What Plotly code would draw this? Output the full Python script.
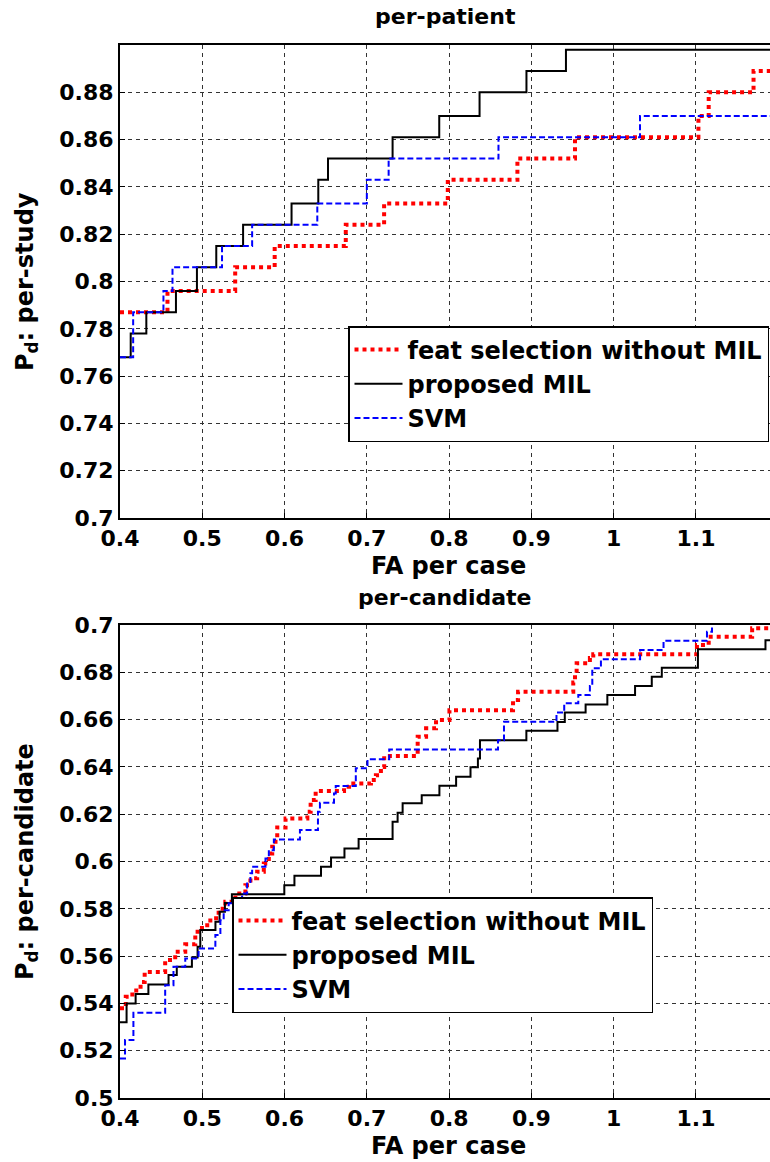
import plotly.graph_objects as go

# ---------------- per-patient (top) ----------------
fa_top_fs = [0.4, 0.4577, 0.540, 0.588, 0.6744, 0.721, 0.7984, 0.883, 0.953, 1.103, 1.1155, 1.170, 1.19]
pd_top_fs = [0.787, 0.796, 0.806, 0.815, 0.824, 0.833, 0.843, 0.852, 0.861, 0.870, 0.880, 0.889, 0.889]

fa_top_mil = [0.4, 0.413, 0.432, 0.468, 0.4935, 0.517, 0.5496, 0.6085, 0.641, 0.6528, 0.7313, 0.788, 0.837, 0.894, 0.942, 1.19]
pd_top_mil = [0.768, 0.778, 0.787, 0.796, 0.806, 0.815, 0.824, 0.833, 0.843, 0.852, 0.861, 0.870, 0.880, 0.889, 0.898, 0.898]

fa_top_svm = [0.4, 0.416, 0.4528, 0.4638, 0.524, 0.5606, 0.6398, 0.700, 0.7265, 0.860, 1.032, 1.19]
pd_top_svm = [0.768, 0.787, 0.796, 0.806, 0.815, 0.824, 0.833, 0.843, 0.852, 0.861, 0.870, 0.870]

# ---------------- per-candidate (bottom) ----------------
fa_bot_fs = [0.4, 0.407, 0.415, 0.425, 0.430, 0.4549, 0.4589, 0.4671, 0.4793, 0.4915, 0.4996, 0.5098,
             0.5199, 0.528, 0.5402, 0.5524, 0.5585, 0.5667, 0.5748, 0.5809, 0.585, 0.589, 0.5911, 0.6012,
             0.6277, 0.6317, 0.6378, 0.6723, 0.6784, 0.705, 0.711, 0.7171, 0.7211, 0.7618, 0.772, 0.7841,
             0.8004, 0.8777, 0.8838, 0.9509, 0.953, 0.955, 0.9711, 0.9752, 1.1012, 1.1155, 1.1683, 1.19]
pd_bot_fs = [0.538, 0.5428, 0.5455, 0.549, 0.5533, 0.5583, 0.5583, 0.5618, 0.565, 0.5703, 0.573, 0.576,
             0.580, 0.583, 0.5865, 0.590, 0.5929, 0.5957, 0.5992, 0.6034, 0.6062, 0.610, 0.6144, 0.6182,
             0.621, 0.626, 0.6298, 0.6316, 0.633, 0.6345, 0.6365, 0.640, 0.6446, 0.6527, 0.6563, 0.6598,
             0.664, 0.6683, 0.6718, 0.6757, 0.6796, 0.6838, 0.686, 0.6876, 0.6915, 0.695, 0.6986, 0.6986]

fa_bot_mil = [0.4, 0.408, 0.419, 0.4345, 0.459, 0.469, 0.4874, 0.4943, 0.4976, 0.516, 0.521, 0.5275,
              0.536, 0.5997, 0.612, 0.6443, 0.6565, 0.6728, 0.690, 0.7313, 0.7374, 0.7435, 0.7667, 0.7882,
              0.8085, 0.826, 0.835, 0.8375, 0.8939, 0.9317, 0.9406, 0.9659, 0.9923, 1.026, 1.0463, 1.0585,
              1.1024, 1.1845, 1.19]
pd_bot_mil = [0.532, 0.540, 0.544, 0.548, 0.552, 0.5555, 0.5594, 0.564, 0.571, 0.5745, 0.5787, 0.5825,
              0.5862, 0.590, 0.594, 0.5978, 0.6017, 0.6055, 0.6095, 0.6168, 0.6206, 0.6246, 0.628, 0.632,
              0.6358, 0.6398, 0.6436, 0.6513, 0.6553, 0.659, 0.663, 0.6664, 0.6704, 0.6742, 0.6781, 0.6819,
              0.6897, 0.6936, 0.6936]

fa_bot_svm = [0.4, 0.4061, 0.4163, 0.4549, 0.465, 0.4793, 0.4955, 0.5159, 0.522, 0.526, 0.5321, 0.5484,
              0.5545, 0.5585, 0.5606, 0.5768, 0.5809, 0.587, 0.6187, 0.6406, 0.643, 0.6601, 0.6622, 0.6866,
              0.7008, 0.7272, 0.8594, 0.8667, 0.9305, 0.9399, 0.957, 0.9711, 0.974, 0.9845, 1.0321, 1.0606,
              1.1134, 1.1195, 1.19]
pd_bot_svm = [0.5167, 0.5245, 0.536, 0.5477, 0.5555, 0.559, 0.5632, 0.5689, 0.5752, 0.5794, 0.5823, 0.5865,
              0.5907, 0.595, 0.5978, 0.6013, 0.6048, 0.6093, 0.6133, 0.621, 0.6248, 0.6288, 0.6319, 0.6394,
              0.6432, 0.6474, 0.6513, 0.6591, 0.663, 0.6669, 0.6704, 0.6742, 0.6817, 0.6855, 0.6894, 0.6933,
              0.6971, 0.7015, 0.7015]

series_names = ["feat selection without MIL", "proposed MIL", "SVM"]
x_tickvals = [0.4, 0.5, 0.6, 0.7, 0.8, 0.9, 1.0, 1.1]
x_ticktext = ["0.4", "0.5", "0.6", "0.7", "0.8", "0.9", "1", "1.1"]
y_top_tickvals = [0.7, 0.72, 0.74, 0.76, 0.78, 0.8, 0.82, 0.84, 0.86, 0.88]
y_top_ticktext = ["0.7", "0.72", "0.74", "0.76", "0.78", "0.8", "0.82", "0.84", "0.86", "0.88"]
y_bot_tickvals = [0.5, 0.52, 0.54, 0.56, 0.58, 0.6, 0.62, 0.64, 0.66, 0.68, 0.7]
y_bot_ticktext = ["0.5", "0.52", "0.54", "0.56", "0.58", "0.6", "0.62", "0.64", "0.66", "0.68", "0.7"]

FONT = "DejaVu Sans"
styles = [
    dict(color="#ff0000", width=4, dash="4px,4px"),
    dict(color="#000000", width=2, dash="solid"),
    dict(color="#0000ff", width=2, dash="6px,3px"),
]

fig = go.Figure()
top = [(fa_top_fs, pd_top_fs), (fa_top_mil, pd_top_mil), (fa_top_svm, pd_top_svm)]
bot = [(fa_bot_fs, pd_bot_fs), (fa_bot_mil, pd_bot_mil), (fa_bot_svm, pd_bot_svm)]
for (x, y), name, st in zip(top, series_names, styles):
    fig.add_trace(go.Scatter(x=x, y=y, mode="lines", line=dict(shape="hv", **st), name=name,
                             xaxis="x", yaxis="y", legend="legend"))
for (x, y), name, st in zip(bot, series_names, styles):
    fig.add_trace(go.Scatter(x=x, y=y, mode="lines", line=dict(shape="hv", **st), name=name,
                             xaxis="x2", yaxis="y2", legend="legend2"))

T, B = 45, 64
H = 1162 - T - B


def py(p):
    return (1098 - p) / H


def px(p):
    return (p - 120) / 650


axis_common = dict(
    showline=True, linecolor="black", linewidth=2, mirror=True,
    showgrid=True, gridcolor="#333333", gridwidth=1, griddash="4px,4px",
    ticks="inside", ticklen=5, tickcolor="black",
    tickfont=dict(family=FONT, size=22, color="black", weight="bold"),
    zeroline=False,
)

legend_common = dict(
    bgcolor="white", bordercolor="black", borderwidth=1.5,
    font=dict(family=FONT, size=24, color="black", weight="bold"),
    xanchor="left", yanchor="top", tracegroupgap=0, itemwidth=48,
)

fig.update_layout(
    width=770, height=1162,
    margin=dict(l=120, r=0, t=T, b=B, autoexpand=False),
    plot_bgcolor="white", paper_bgcolor="white",
    xaxis=dict(domain=[0, 1], range=[0.4, 1.19], anchor="y", tickvals=x_tickvals, ticktext=x_ticktext, **axis_common),
    yaxis=dict(domain=[py(518), 1], range=[0.7, 0.9], anchor="x", tickvals=y_top_tickvals, ticktext=y_top_ticktext, **axis_common),
    xaxis2=dict(domain=[0, 1], range=[0.4, 1.19], anchor="y2", tickvals=x_tickvals, ticktext=x_ticktext, **axis_common),
    yaxis2=dict(domain=[0, py(625)], range=[0.5, 0.7], anchor="x2", tickvals=y_bot_tickvals, ticktext=y_bot_ticktext, **axis_common),
    legend=dict(x=px(348), y=py(326), **legend_common),
    legend2=dict(x=px(232), y=py(897), **legend_common),
    showlegend=True,
)

ann_font = dict(family=FONT, size=22, color="black", weight="bold")
lab_font = dict(family=FONT, size=24, color="black", weight="bold")
annotations = [
    dict(text="per-patient", x=px(445), y=py(16), font=ann_font),
    dict(text="per-candidate", x=px(445), y=py(597), font=ann_font),
    dict(text="FA per case", x=px(448), y=py(566), font=lab_font),
    dict(text="FA per case", x=px(448), y=py(1146), font=lab_font),
    dict(text="P<sub>d</sub>: per-study", x=px(26), y=py(282), font=lab_font, textangle=-90),
    dict(text="P<sub>d</sub>: per-candidate", x=px(26), y=py(862), font=lab_font, textangle=-90),
]
for a in annotations:
    fig.add_annotation(xref="paper", yref="paper", showarrow=False, xanchor="center", yanchor="middle", **a)

fig.write_html("out.html", config={"displayModeBar": False},
               post_script="document.body.style.margin='0px';document.body.style.padding='0px';")
